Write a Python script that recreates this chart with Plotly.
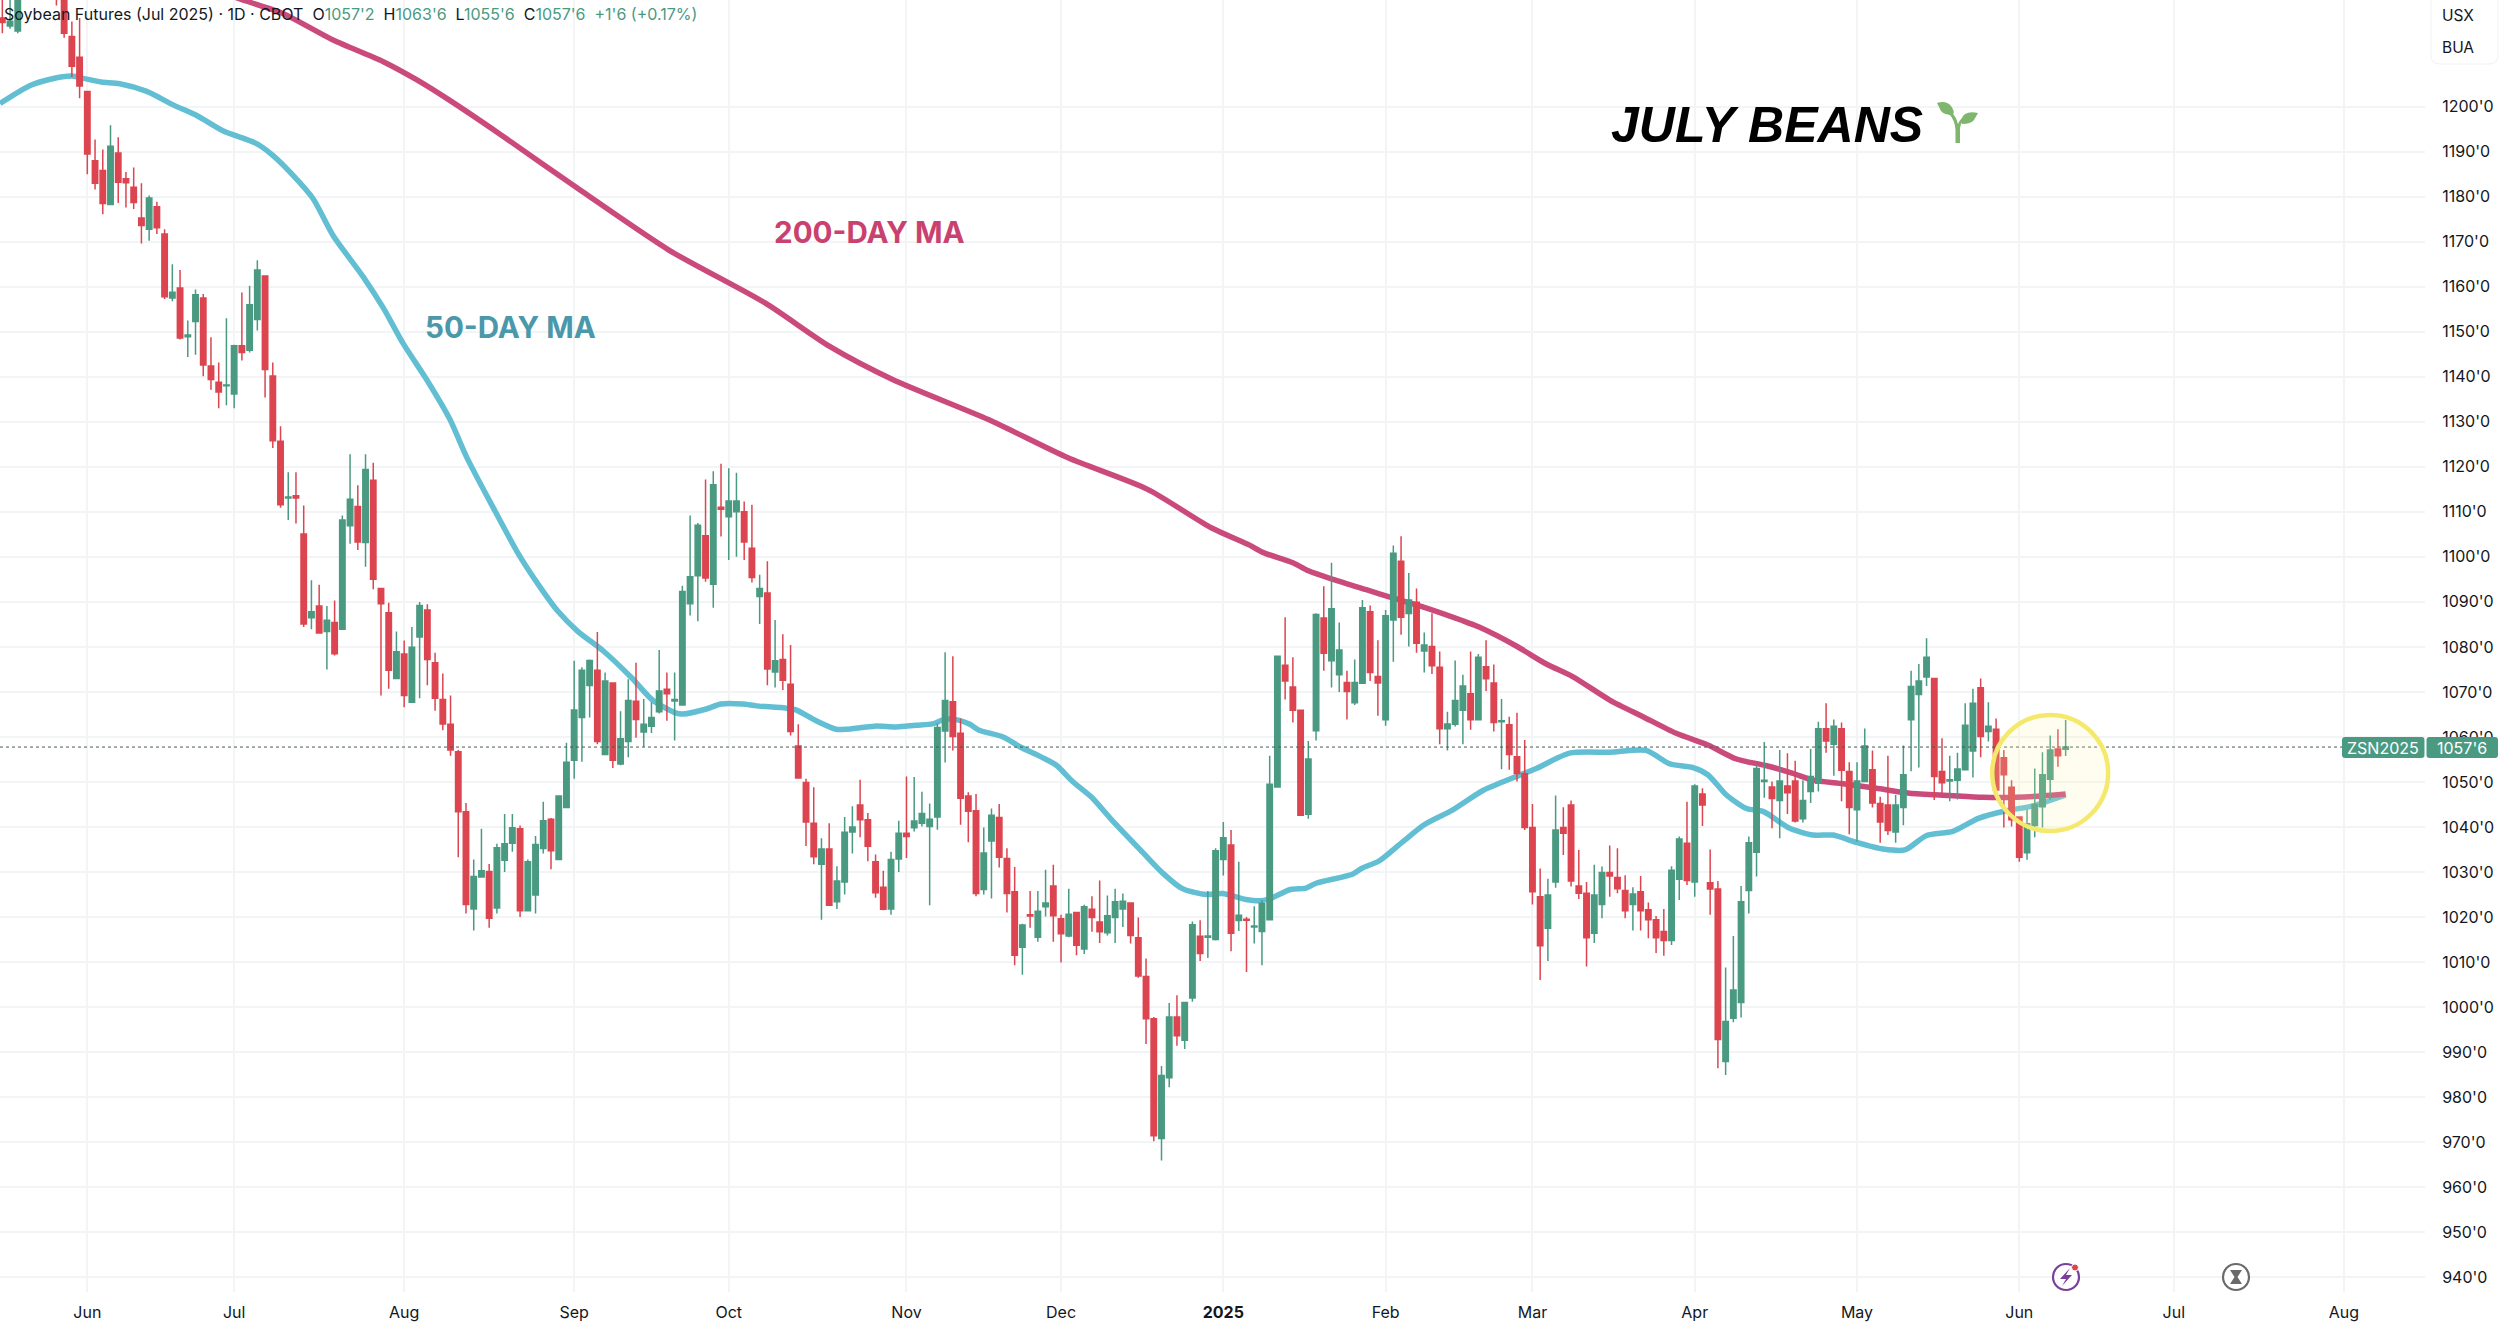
import plotly.graph_objects as go

# daily OHLC, one row = 10 sessions
open_ = [
    1219.7,1217.9,1216.8,1229,1238,1232,1241,1237,1229,1215.6,
    1211.0,1203.4,1188.0,1185.8,1178.3,1189.7,1184.0,1182.1,1175.3,1172.8,
    1177.8,1171.7,1157.5,1159.7,1148.9,1152.3,1157.5,1142.4,1138.8,1138.0,
    1136.2,1146.9,1145.9,1152.7,1162.4,1140.2,1125.7,1113.1,1113.6,1105.1,
    1086.5,1089.1,1083.4,1085.4,1083.9,1106.9,1111.2,1103.2,1117.0,1093.0,
    1087.6,1073.0,1078.4,1067.7,1082.2,1088.2,1076.5,1068.3,1062.8,1056.7,
    1043.4,1021.8,1028.9,1030.1,1022.0,1032.6,1036.4,1039.6,1021.4,1024.9,
    1035.2,1041.7,1032.8,1044.3,1054.8,1064.3,1071.4,1074.8,1056.1,1072.0,
    1054.0,1059.0,1067.9,1061.1,1062.4,1065.6,1070.6,1068.0,1067.1,1089.6,
    1095.8,1104.7,1093.9,1111.0,1108.9,1110.0,1110.0,1101.9,1091.2,1092.0,
    1074.4,1077.2,1071.7,1058.0,1049.9,1040.8,1031.7,1035.1,1023.4,1027.8,
    1038.9,1044.9,1041.6,1032.3,1026.6,1021.8,1032.9,1038.6,1039.8,1040.8,
    1040.1,1042.2,1061.3,1067.8,1060.8,1046.9,1043.6,1026.1,1036.9,1042.1,
    1033.0,1025.6,1013.3,1020.5,1015.5,1022.3,1026.9,1019.6,1015.8,1021.0,
    1012.9,1021.7,1018.9,1016.5,1019.9,1021.8,1023.1,1015.4,1006.8,997.4,
    970.8,984.3,997.8,992.6,1002.0,1015.7,1015.5,1015.0,1032.8,1036.0,
    1019.2,1019.5,1017.8,1016.8,1019.4,1048.9,1075.9,1071.1,1065.9,1042.8,
    1061.4,1086.4,1076.9,1073.8,1072.1,1067.6,1071.9,1087.8,1073.4,1063.8,
    1086.0,1099.0,1087.4,1089.9,1079.1,1080.1,1075.5,1061.8,1062.8,1065.9,
    1069.6,1063.8,1075.6,1072.0,1063.4,1062.7,1055.6,1051.8,1039.9,1024.5,
    1017.5,1027.8,1039.9,1044.9,1026.9,1025.3,1016.4,1022.8,1029.9,1028.8,
    1025.9,1022.8,1025.6,1021.6,1019.4,1016.8,1014.8,1028.4,1036.4,1027.8,
    1047.3,1027.6,1026.2,987.9,997.5,1001.0,1025.9,1034.4,1050.1,1048.9,
    1045.9,1049.1,1050.2,1041.8,1047.9,1049.7,1061.8,1058.4,1061.8,1052.3,
    1043.8,1050.1,1052.7,1045.2,1044.9,1038.9,1044.3,1063.8,1069.4,1073.3,
    1073.0,1052.3,1050.2,1050.4,1052.7,1056.9,1070.9,1061.2,1061.7,1055.4,
    1048.8,1042.2,1034.3,1040.3,1044.5,1050.6,1057.3,1057.25,
]
high = [
    1226,1226,1232,1238,1241,1243,1245,1240,1232,1218.9,
    1219.7,1203.4,1192.7,1190.5,1195.9,1193.2,1185.5,1186.5,1183.0,1180.3,
    1178.9,1172.8,1165.0,1163.7,1152.5,1159.4,1158.4,1148.8,1143.2,1153.0,
    1147.1,1158.7,1160.2,1165.9,1162.4,1143.2,1129.0,1118.8,1118.8,1111.4,
    1094.8,1093.8,1089.1,1090.3,1109.2,1122.8,1115.9,1122.8,1120.9,1093.0,
    1089.8,1083.4,1081.4,1084.4,1090.0,1089.5,1078.7,1074.1,1069.2,1057.1,
    1045.3,1032.8,1039.6,1031.8,1036.3,1042.9,1042.9,1040.3,1032.8,1038.0,
    1045.6,1042.0,1046.9,1058.7,1076.9,1075.5,1077.2,1083.3,1074.3,1072.1,
    1065.7,1072.8,1076.5,1068.4,1067.7,1079.3,1074.3,1074.3,1093.6,1109.2,
    1107.5,1117.2,1119.0,1120.7,1119.7,1118.7,1112.3,1111.6,1096.0,1099.0,
    1086.0,1082.8,1080.4,1062.8,1050.7,1048.8,1037.5,1040.8,1031.3,1042.2,
    1044.6,1050.5,1043.1,1033.9,1030.3,1034.5,1041.4,1051.2,1051.1,1047.8,
    1045.2,1063.0,1078.8,1077.9,1064.1,1047.7,1047.3,1039.9,1044.1,1045.1,
    1035.3,1031.1,1018.5,1025.8,1025.8,1030.5,1031.6,1020.5,1026.3,1021.1,
    1022.7,1024.6,1028.1,1024.8,1026.3,1025.2,1023.3,1019.9,1010.8,997.8,
    986.9,1000.9,1002.6,1001.0,1019.0,1019.3,1025.8,1035.3,1041.1,1039.3,
    1032.3,1020.0,1022.4,1023.7,1055.8,1078.1,1086.6,1077.7,1065.9,1059.1,
    1087.5,1093.5,1098.7,1085.4,1074.7,1077.2,1090.4,1089.2,1081.5,1088.2,
    1102.5,1104.6,1096.4,1093.0,1083.2,1087.5,1079.0,1065.6,1077.0,1073.8,
    1079.0,1078.4,1081.5,1076.1,1068.4,1064.5,1065.4,1059.3,1045.1,1030.8,
    1028.5,1047.0,1044.4,1045.9,1034.9,1027.8,1031.6,1031.2,1035.9,1035.3,
    1029.3,1026.6,1029.1,1023.2,1020.2,1021.8,1031.3,1037.9,1045.6,1049.5,
    1048.6,1035.0,1028.0,1008.8,1015.8,1026.9,1037.9,1053.8,1058.9,1050.1,
    1057.1,1056.4,1054.7,1050.4,1057.3,1063.4,1067.5,1063.9,1063.2,1054.4,
    1054.4,1061.9,1057.0,1046.7,1055.8,1047.1,1058.1,1074.7,1076.2,1081.9,
    1073.0,1059.7,1055.8,1056.5,1067.5,1070.7,1073.0,1067.7,1064.1,1057.1,
    1050.4,1042.4,1043.8,1053.0,1056.6,1060.3,1061.7,1063.75,
]
low = [
    1216.3,1217.3,1216.3,1224.4,1229,1230,1232,1222.5,1215.3,1206.6,
    1201.9,1185.0,1181.6,1176.1,1178.3,1178.6,1177.6,1177.3,1169.6,1170.2,
    1171.7,1157.3,1156.8,1148.3,1144.4,1144.9,1140.1,1137.1,1133.0,1133.7,
    1133.0,1143.6,1145.4,1150.3,1135.4,1124.2,1110.9,1108.2,1107.4,1084.4,
    1083.9,1083.1,1075.0,1078.1,1083.9,1102.9,1101.5,1097.8,1092.8,1069.2,
    1070.7,1072.8,1066.6,1067.7,1068.6,1071.5,1065.8,1061.5,1055.8,1033.3,
    1020.8,1017.0,1028.8,1017.6,1020.8,1030.0,1034.5,1020.0,1021.2,1020.8,
    1034.1,1030.6,1032.8,1044.3,1050.7,1054.5,1064.3,1058.4,1056.1,1053.1,
    1053.7,1055.5,1059.8,1057.8,1060.9,1065.2,1063.6,1059.2,1067.1,1087.0,
    1085.7,1094.5,1088.7,1104.5,1099.3,1100.0,1099.3,1094.3,1085.1,1071.5,
    1071.0,1070.4,1060.3,1050.7,1035.8,1031.7,1019.4,1022.5,1021.8,1025.0,
    1034.1,1037.7,1032.4,1024.3,1021.5,1020.5,1030.0,1033.1,1039.0,1040.1,
    1022.6,1039.4,1054.3,1057.0,1040.5,1036.6,1024.6,1025.0,1024.1,1031.0,
    1021.0,1009.3,1007.2,1017.6,1014.5,1020.1,1014.5,1009.9,1015.5,1011.5,
    1011.8,1016.7,1014.2,1015.9,1014.2,1017.8,1014.1,1006.5,991.8,970.2,
    965.9,982.2,991.4,990.7,1001.2,1010.2,1010.9,1014.8,1029.2,1012.4,
    1016.9,1007.8,1014.1,1009.3,1019.4,1048.9,1068.3,1063.2,1042.6,1041.8,
    1059.2,1074.7,1071.0,1070.0,1063.9,1067.1,1071.9,1072.4,1064.7,1062.5,
    1076.7,1082.7,1080.1,1078.7,1074.3,1074.0,1058.4,1057.0,1062.3,1058.4,
    1061.6,1063.8,1070.2,1061.2,1052.8,1052.7,1050.1,1039.3,1022.8,1006.0,
    1010.2,1026.5,1033.8,1026.8,1024.0,1009.0,1014.2,1019.7,1024.5,1025.3,
    1019.7,1017.0,1017.0,1015.3,1012.0,1011.4,1013.8,1023.8,1027.1,1024.5,
    1040.2,1020.5,986.4,984.9,996.6,997.7,1020.8,1029.0,1046.5,1039.7,
    1037.5,1042.9,1041.0,1041.0,1045.3,1047.9,1056.5,1051.4,1045.7,1038.4,
    1036.8,1050.0,1044.3,1036.5,1038.2,1036.5,1040.4,1052.4,1053.2,1071.3,
    1046.0,1047.5,1045.7,1046.1,1052.6,1051.0,1055.5,1059.0,1047.3,1039.9,
    1040.1,1032.3,1032.7,1037.7,1039.9,1046.0,1053.4,1055.75,
]
close = [
    1218.7,1219.0,1228,1235,1232,1240,1235,1229,1216.3,1209.0,
    1204.6,1189.5,1183.0,1178.5,1191.2,1183.2,1183.1,1178.7,1173.6,1179.7,
    1173.1,1157.8,1158.8,1148.6,1149.3,1158.2,1142.6,1139.4,1136.6,1138.2,
    1146.9,1145.4,1156.0,1163.7,1141.6,1125.8,1111.6,1113.3,1113.1,1085.1,
    1087.8,1083.1,1085.9,1078.5,1108.2,1112.8,1103.3,1119.4,1095.0,1089.6,
    1074.8,1078.9,1069.2,1079.9,1089.2,1077.2,1068.6,1062.9,1057.1,1043.4,
    1022.8,1029.0,1030.3,1019.7,1035.4,1036.3,1039.8,1021.4,1032.3,1036.1,
    1041.4,1034.7,1046.9,1054.4,1066.0,1074.8,1077.0,1059.0,1072.4,1054.8,
    1059.6,1068.1,1063.9,1062.8,1064.3,1070.2,1069.6,1068.3,1092.3,1095.6,
    1107.0,1095.3,1116.0,1110.6,1112.4,1112.4,1103.3,1095.4,1093.0,1075.1,
    1076.9,1072.6,1061.2,1050.9,1041.1,1033.4,1035.1,1022.6,1028.0,1038.8,
    1040.0,1041.6,1035.7,1025.4,1021.7,1032.8,1038.6,1037.9,1041.3,1043.0,
    1041.7,1062.1,1068.1,1060.1,1046.4,1043.5,1025.2,1034.2,1042.6,1033.3,
    1025.2,1011.5,1018.2,1020.2,1021.3,1023.1,1020.3,1016.3,1020.6,1013.7,
    1022.3,1019.9,1016.7,1020.3,1023.4,1023.5,1015.9,1006.9,997.4,971.4,
    984.8,997.8,993.6,1001.0,1018.3,1011.9,1015.8,1034.7,1037.6,1016.4,
    1020.4,1019.3,1018.0,1023.0,1049.5,1077.9,1072.4,1065.9,1042.6,1055.1,
    1087.2,1078.6,1088.5,1079.3,1070.1,1072.1,1088.7,1074.3,1072.0,1086.9,
    1100.8,1086.6,1090.4,1080.8,1080.4,1075.8,1061.8,1062.9,1068.1,1071.3,
    1063.8,1077.7,1072.9,1063.2,1063.6,1056.1,1051.9,1039.9,1025.6,1013.6,
    1024.9,1039.3,1038.6,1028.0,1025.3,1015.4,1024.9,1029.9,1029.1,1026.3,
    1021.4,1025.1,1021.4,1019.4,1015.4,1014.8,1030.4,1037.3,1028.1,1049.1,
    1044.9,1026.2,992.8,996.8,1003.8,1023.4,1036.5,1053.0,1050.4,1046.3,
    1050.2,1047.6,1041.3,1045.9,1051.2,1061.8,1059.1,1062.4,1052.6,1044.3,
    1050.2,1058.0,1045.3,1041.1,1039.2,1044.9,1051.6,1071.2,1072.4,1077.7,
    1051.2,1049.8,1050.5,1052.9,1062.6,1067.5,1060.1,1062.4,1048.2,1051.6,
    1041.6,1033.3,1040.7,1045.0,1051.6,1057.1,1055.8,1057.75,
]

# moving averages, sampled by session number
ma50_x = [-0.3,3.6,6.2,9,10.5,12.8,15.2,18.7,22.1,25.1,28.6,32.9,35,37.6,40.2,42.8,46.7,49.3,51.9,54.9,
          57.9,60.1,63.5,66.7,69.3,71.9,74.5,77.7,81.4,84.2,87.2,88.1,91.1,93,95.8,97.6,101.4,102.7,105.3,
          107.9,109.2,112.9,115.7,118.2,120.4,121.9,123.6,125.2,126.4,129.5,131.8,134.6,136.4,138.5,140.9,143.7,147.6,150.2,152.7,
          155.8,157.9,160.9,162.7,163.9,166.7,168.7,170,174.7,176,178.2,181.2,184,187.7,191.6,195.9,198.5,202.8,208,212.7,
          215.8,218.8,220.7,223.1,225.7,227.9,231.3,234.3,236.9,239.9,243.4,246.2,249,252.4,255.7,259.3,262.8,267]
ma50_y = [1200.7,1204.7,1206.1,1206.8,1206.3,1205.5,1205.1,1203.4,1200.4,1198.1,1194.6,1191.8,1189.2,1184.8,1179.6,1171.4,1162.2,1155.3,1147.3,1139.4,
          1130.6,1122.1,1111.0,1100.9,1094.0,1087.9,1083.4,1079.2,1073.2,1068.1,1065.3,1065.1,1066.2,1067.3,1067.3,1066.9,1066.4,1066.0,1063.6,
          1061.7,1061.7,1062.4,1062.2,1062.6,1062.9,1063.9,1063.8,1062.8,1061.5,1060.0,1057.7,1055.4,1053.7,1050.1,1046.7,1041.3,1034.3,1029.7,1026.3,
          1025.0,1025.2,1023.9,1023.6,1024.0,1026.1,1026.4,1027.5,1029.5,1030.9,1032.5,1036.7,1040.5,1043.8,1048.1,1051.2,1053.0,1056.4,1056.6,1057.0,
          1054.0,1053.2,1051.6,1047.1,1044.1,1043.4,1039.7,1038.2,1038.2,1036.6,1035.1,1034.9,1038.1,1039.0,1041.9,1043.6,1044.7,1047.1]
ma200_x = [25,30.3,36.3,42.8,49.3,53.6,57.9,64.4,75,86.3,98.7,107,115.2,127.6,137.9,148.2,156.5,161.4,163.1,167,169,172.2,176.5,179.9,183.8,189,191.1,
           195.9,199.8,203.2,208,212.3,216.6,220.7,224.4,228.3,231.7,234.3,238.2,242.5,246.8,252,256.3,260.6,264.1,267]
ma200_y = [1228,1224.2,1220.7,1214.8,1210.0,1206.0,1201.4,1193.9,1181.2,1168.1,1156.4,1146.8,1139.4,1130.5,1122.0,1115.0,1106.4,1102.6,1101.0,1098.7,1096.9,1095.0,1092.7,1090.9,1088.9,1085.8,1084.4,
           1080.2,1076.2,1073.4,1068.2,1064.5,1060.8,1058.2,1055.1,1053.6,1051.9,1050.4,1049.6,1048.6,1047.5,1047.0,1046.6,1046.6,1046.9,1047.3]

month_pos = [11,30,52,74,94,117,137,158,179,198,219,240,261,281,303]
month_text = ["Jun","Jul","Aug","Sep","Oct","Nov","Dec","<b>2025</b>","Feb","Mar","Apr","May","Jun","Jul","Aug"]
price_ticks = list(range(940, 1210, 10))
price_text = [f"{p}'0" for p in price_ticks]

last_price = 1057.75
circle_center = (265, 1052)
circle_radius = (7.5, 12.9)

UP = "#4A9A82"
DOWN = "#DC4550"
TEAL = "#62BFD3"
CRIMSON = "#CB4A7C"
GRID = "#F3F4F6"
W, H = 2500, 1322
PW, PH = 2425, 1292
xr = [-0.3, 313.5]
yr = [936.7, 1223.7]


def px(x):
    return x / PW


def py(y):
    return 1 - y / PH


def pth(points):
    # absolute pixels to a paper-coordinate svg path
    out = []
    for cmd, *vals in points:
        nums = []
        for i in range(0, len(vals), 2):
            nums.append(f"{px(vals[i]):.5f},{py(vals[i+1]):.5f}")
        out.append(cmd + " ".join(nums))
    return " ".join(out) + ""


def rrect(x0, y0, x1, y1, r):
    return pth([("M", x0 + r, y0), ("L", x1 - r, y0), ("Q", x1, y0, x1, y0 + r), ("L", x1, y1 - r),
                ("Q", x1, y1, x1 - r, y1), ("L", x0 + r, y1), ("Q", x0, y1, x0, y1 - r),
                ("L", x0, y0 + r), ("Q", x0, y0, x0 + r, y0)]) + " Z"


def pshape(path, fill, line=None, w=0):
    return dict(type="path", xref="paper", yref="paper", path=path, fillcolor=fill,
                line=dict(color=line or "rgba(0,0,0,0)", width=w), layer="above")


def ring(cx, cy, r, fill, line, w):
    return dict(type="circle", xref="paper", yref="paper", x0=px(cx - r), x1=px(cx + r), y0=py(cy + r), y1=py(cy - r),
                fillcolor=fill, line=dict(color=line, width=w), layer="above")


def note(x, y, text, size, color="#131722", anchor="left", family="Inter"):
    return dict(xref="paper", yref="paper", x=px(x), y=py(y), text=text, showarrow=False, xanchor=anchor,
                yanchor="middle", font=dict(family=family, size=size, color=color), borderpad=0)


fig = go.Figure()
fig.add_trace(go.Scatter(x=ma50_x, y=ma50_y, mode="lines", line=dict(color=TEAL, width=5.5, shape="spline", smoothing=0.7), hoverinfo="skip"))
fig.add_trace(go.Scatter(x=ma200_x, y=ma200_y, mode="lines", line=dict(color=CRIMSON, width=5.5, shape="spline", smoothing=0.7), hoverinfo="skip"))
# candles sit on an overlay axis so they stay in front of the averages
fig.add_trace(go.Candlestick(
    x=list(range(len(close))), open=open_, high=high, low=low, close=close,
    xaxis="x2", yaxis="y2", whiskerwidth=0,
    increasing=dict(line=dict(color=UP, width=1.5), fillcolor=UP),
    decreasing=dict(line=dict(color=DOWN, width=1.5), fillcolor=DOWN),
))

c = "#4A9A82"
header = ("Soybean Futures (Jul 2025) · 1D · CBOT&#160;&#160;"
          f"O<span style='color:{c}'>1057'2</span>&#160;&#160;"
          f"H<span style='color:{c}'>1063'6</span>&#160;&#160;"
          f"L<span style='color:{c}'>1055'6</span>&#160;&#160;"
          f"C<span style='color:{c}'>1057'6</span>&#160;&#160;"
          f"<span style='color:{c}'>+1'6 (+0.17%)</span>")

shapes = [
    dict(type="line", xref="paper", yref="y", x0=0, x1=px(2342), y0=last_price, y1=last_price,
         line=dict(color="#4a5a55", width=1, dash="dot"), layer="above"),
    dict(type="circle", xref="x", yref="y",
         x0=circle_center[0] - circle_radius[0], x1=circle_center[0] + circle_radius[0],
         y0=circle_center[1] - circle_radius[1], y1=circle_center[1] + circle_radius[1],
         fillcolor="rgba(250,243,170,0.18)", line=dict(color="#F4E96C", width=4.5), layer="above"),
    # price tag
    pshape(rrect(2342, 737, 2424.5, 758, 3), UP),
    pshape(rrect(2426.5, 737, 2498, 758, 3), UP),
    # symbol box, top right
    pshape(rrect(2431, -6, 2498, 64, 9), "#FFFFFF", "#F1F2F4", 1),
    # sprout
    pshape(pth([("M", 1955.5, 143), ("L", 1960, 143), ("L", 1960, 128), ("Q", 1961, 122, 1964, 120), ("L", 1962, 118),
                ("Q", 1959, 121, 1958, 124), ("Q", 1956, 116, 1951, 112), ("L", 1949, 114), ("Q", 1955, 120, 1955.5, 130)]) + " Z", "#7FB56C"),
    pshape(pth([("M", 1937, 103), ("Q", 1946, 100, 1951, 106), ("Q", 1955, 111, 1953, 115), ("Q", 1944, 115, 1941, 111)]) + " Z", "#7FB56C"),
    pshape(pth([("M", 1978, 113), ("Q", 1970, 111, 1965, 114), ("Q", 1960, 118, 1962, 124), ("Q", 1971, 124, 1974, 120)]) + " Z", "#7FB56C"),
    # lightning badge
    ring(2066, 1277, 13, "#FFFFFF", "#7A3E9D", 2.2),
    pshape(pth([("M", 2070, 1268), ("L", 2060, 1279), ("L", 2066, 1279), ("L", 2062, 1286), ("L", 2072, 1275), ("L", 2066, 1275)]) + " Z", "#7A3E9D"),
    ring(2075, 1267.5, 3.5, "#DC4550", "#FFFFFF", 1),
    # hourglass badge
    ring(2236, 1277, 13, "#FFFFFF", "#6A6A6A", 2.2),
    pshape(pth([("M", 2230, 1270), ("L", 2242, 1270), ("L", 2237.5, 1277), ("L", 2242, 1284), ("L", 2230, 1284), ("L", 2234.5, 1277)]) + " Z", "#6A6A6A"),
]

annotations = [
    note(3, 14, header, 16),
    note(1610, 125, "<b><i>JULY BEANS</i></b>", 50, "#000000", family="Liberation Sans"),
    note(773, 232, "<b>200-DAY MA</b>", 29.6, "#C9426F"),
    note(424, 327, "<b>50-DAY MA</b>", 29.6, "#4A98A9"),
    note(2383, 747.5, "ZSN2025", 16, "#FFFFFF", "center"),
    note(2462, 747.5, "1057'6", 16, "#FFFFFF", "center"),
    note(2458, 15, "USX", 15.5, "#131722", "center"),
    note(2458, 48, "BUA", 15.5, "#131722", "center"),
]

fig.update_layout(
    width=W, height=H, showlegend=False, paper_bgcolor="white", plot_bgcolor="white",
    margin=dict(l=0, r=W - PW, t=0, b=H - PH), boxgap=0.3, boxgroupgap=0,
    font=dict(family="Inter", size=16, color="#131722"),
    xaxis=dict(range=xr, tickmode="array", tickvals=month_pos, ticktext=month_text, showgrid=True, gridcolor=GRID, gridwidth=1.5,
               zeroline=False, showline=False, ticks="outside", ticklen=6, tickcolor="rgba(0,0,0,0)", rangeslider=dict(visible=False)),
    yaxis=dict(range=yr, side="right", tickmode="array", tickvals=price_ticks, ticktext=price_text, showgrid=True, gridcolor=GRID, gridwidth=1.5,
               zeroline=False, showline=False, ticks="outside", ticklen=13, tickcolor="rgba(0,0,0,0)"),
    xaxis2=dict(range=xr, overlaying="x", visible=False, rangeslider=dict(visible=False)),
    yaxis2=dict(range=yr, overlaying="y", visible=False),
    shapes=shapes, annotations=annotations,
)
fig.write_html("out.html", config=dict(displayModeBar=False),
               post_script="document.body.style.margin=0;document.body.style.overflow='hidden';")
